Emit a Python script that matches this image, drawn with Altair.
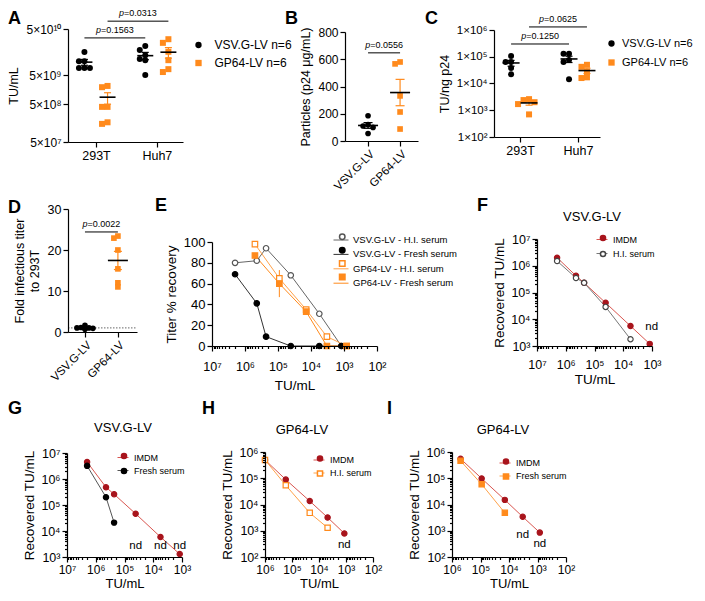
import altair as alt
import numpy as np
import pandas as pd

W, H = 689, 585
FONT = "Liberation Sans"
BLACK = "#000000"
ORANGE = "#FF8A1C"
ORANGE_LINE = "#FFA24A"
DKRED = "#A8141C"
RED_LINE = "#D95650"

SUPD = dict(zip("0123456789", "⁰¹²³⁴⁵⁶⁷⁸⁹"))


def sup(n):
    return "".join(SUPD[c] for c in str(n))


# ======================= values =======================
A_cells = ["293T", "Huh7"]
A_vsv_293T = [1.58e10, 1.0e10, 1.0e10, 7.1e9, 7.1e9, 7.1e9]
A_gp_293T = [2.1e9, 1.9e9, 4.2e8, 4.2e8, 1.65e8, 1.5e8]
A_vsv_Huh7 = [2.14e10, 1.74e10, 1.35e10, 1.12e10, 1.05e10, 5.0e9]
A_gp_Huh7 = [3.0e10, 2.5e10, 1.6e10, 1.05e10, 6.7e9, 5.8e9]
A_ticks = [5e7, 5e8, 5e9, 5e10]
A_p = ["=0.1563", "=0.0313"]
A_p_y = [3.2e10, 7.4e10]

B_groups = ["VSV.G-LV", "GP64-LV"]
B_vsv = [185, 120, 110, 100, 55]
B_gp = [580, 566, 331, 213, 88]
B_ticks = [0, 200, 400, 600, 800]
B_p = ["=0.0556"]
B_p_y = [647]

C_cells = ["293T", "Huh7"]
C_vsv_293T = [1.07e5, 6.3e4, 6.3e4, 3.8e4, 2.2e4]
C_gp_293T = [2.6e3, 2.4e3, 2.0e3, 1.7e3, 7.0e2]
C_vsv_Huh7 = [1.3e5, 1.3e5, 7.6e4, 6.3e4, 1.45e4]
C_gp_Huh7 = [5.0e4, 4.2e4, 2.7e4, 1.7e4, 1.6e4]
C_ticks = [1e2, 1e3, 1e4, 1e5, 1e6]
C_p = ["=0.1250", "=0.0625"]
C_p_y = [3.0e5, 1.3e6]

D_groups = ["VSV.G-LV", "GP64-LV"]
D_vsv = [0.7, 0.9, 1.0, 1.0, 1.1, 1.6]
D_gp = [23.4, 22.9, 20.0, 15.4, 12.0, 11.0]
D_ticks = [0, 10, 20, 30]
D_p = ["=0.0022"]
D_p_y = [24.4]

E_names = ["VSV.G-LV - H.I. serum", "VSV.G-LV - Fresh serum",
           "GP64-LV - H.I. serum", "GP64-LV - Fresh serum"]
VSV_titer = [2.0e6, 4.4e5, 2.3e5, 4.1e4, 5.6e3, 1.2e3]
GP_titer = [5.0e5, 9.1e4, 1.4e4, 3.3e3, 8.3e2]
E_vsv_hi = [80, 82, 94, 68, 31, 0]
E_vsv_fresh = [69, 41, 9, 0, 0, 0]
E_gp_hi = [98, 65, 35, 9, 0]
E_gp_fresh = [87, 60, 33, 0, 0]
E_gp_hi_err = [0, 3, 2, 0, 0]
E_gp_fresh_err = [0, 13, 2, 0, 0]
E_ticks = [0, 20, 40, 60, 80, 100]

F_names = ["IMDM", "H.I. serum"]
F_imdm = [2.0e6, 4.2e5, 2.3e5, 4.1e4, 5.6e3, 1.2e3]
F_hi = [1.5e6, 3.5e5, 2.3e5, 2.9e4, 1.8e3, None]
F_nd_x, F_nd_y = [1.2e3], [5.0e3]

G_names = ["IMDM", "Fresh serum"]
G_imdm = [4.5e6, 4.8e5, 2.6e5, 4.6e4, 5.9e3, 1.3e3]
G_fresh = [3.2e6, 2.0e5, 2.1e4, None, None, None]
G_nd_x, G_nd_y = [4.1e4, 5.6e3, 1.2e3], [2.6e3, 2.6e3, 2.6e3]

H_names = ["IMDM", "H.I. serum"]
H_titer = [1.0e6, 1.7e5, 2.2e4, 4.8e3, 1.15e3]
H_imdm = [5.0e5, 8.9e4, 1.35e4, 3.2e3, 7.9e2]
H_hi = [5.0e5, 5.4e4, 4.8e3, 1.3e3, None]
H_nd_x, H_nd_y = [1.15e3], [2.8e2]

I_names = ["IMDM", "Fresh serum"]
I_imdm = [5.5e5, 9.8e4, 1.5e4, 3.4e3, 8.5e2]
I_fresh = [4.6e5, 5.9e4, 4.8e3, None, None]
I_nd_x, I_nd_y = [3.3e3, 8.3e2], [6.6e2, 3.1e2]

# ======================= helpers =======================
AXB = dict(grid=False, domainColor=BLACK, tickColor=BLACK, labelColor=BLACK,
           titleColor=BLACK, domainWidth=1.2, tickWidth=1.2, labelFont=FONT,
           titleFont=FONT, titleFontWeight="normal", labelFlush=False,
           labelOverlap=False, zindex=2)


def expr_map(pairs):
    s = "''"
    for v, lab in reversed(pairs):
        s = f"datum.value == {float(v)!r} ? '{lab}' : {s}"
    return s


def axis(orient, pos, title, values, expr=None, fs=12, tfs=13, tick=5, tpad=4, **kw):
    off = -pos if orient == "left" else pos - H
    d = dict(AXB, orient=orient, offset=off, title=title, values=values,
             labelFontSize=fs, titleFontSize=tfs, tickSize=tick, titlePadding=tpad)
    if expr:
        d["labelExpr"] = expr
    d.update(kw)
    return alt.Axis(**d)


def log_axis(orient, pos, title, lo, hi, fs=12.5, tfs=13.5, minor=True, tpad=4, **kw):
    majors = [10 ** k for k in range(lo, hi + 1)]
    vals = list(majors)
    if minor:
        vals += [m * 10 ** k for k in range(lo, hi) for m in range(2, 10)]
    vals.sort()
    ex = expr_map([(10 ** k, "10" + sup(k)) for k in range(lo, hi + 1)])
    tick = 5
    if minor:
        tick = {"condition": {"test": "indexof(%s, datum.value) >= 0" % str(majors),
                              "value": 5}, "value": 2.5}
    return axis(orient, pos, title, vals, ex, fs, tfs, tick, tpad, **kw)


def swarm(vals, ypix, step, ppu):
    ys = [float(ypix(v)) for v in vals]
    order = sorted(range(len(vals)), key=lambda i: ys[i])
    placed, offs = [], [0.0] * len(vals)
    for i in order:
        xo = 0.0
        for k in [0, -1, 1, -2, 2, -3, 3, -4, 4]:
            xo = k * step
            if all((xo - px) ** 2 + (ys[i] - py) ** 2 >= (0.9 * step) ** 2 for px, py in placed):
                break
        placed.append((xo, ys[i]))
        offs[i] = xo / ppu
    return offs


def dot_df(series, ypix, step, ppu):
    rows = []
    for grp, xc, vals in series:
        for v, o in zip(vals, swarm(vals, ypix, step, ppu)):
            rows.append({"grp": grp, "xc": xc, "xj": xc + o, "v": v})
    return pd.DataFrame(rows)


def dot_layers(df, xs, ys, xax, yax, dom, cols, shapes, legend, size, mean_w, cap_w):
    base = alt.Chart(df)
    X = lambda f: alt.X(f, scale=xs, axis=None)
    Y = lambda f: alt.Y(f, scale=ys, axis=None)
    cs = alt.Scale(domain=dom, range=cols)
    pts = base.mark_point(filled=True, size=size, opacity=1, strokeWidth=0).encode(
        x=alt.X("xj:Q", scale=xs, axis=xax),
        y=alt.Y("v:Q", scale=ys, axis=yax),
        color=alt.Color("grp:N", scale=cs, legend=legend),
        shape=alt.Shape("grp:N", scale=alt.Scale(domain=dom, range=shapes), legend=legend),
    )
    agg = base.transform_aggregate(
        m="mean(v)", se="stderr(v)", groupby=["grp", "xc"]
    ).transform_calculate(
        lo="datum.m - datum.se", hi="datum.m + datum.se",
        ml=f"datum.xc - {mean_w}", mr=f"datum.xc + {mean_w}",
        cl=f"datum.xc - {cap_w}", cr=f"datum.xc + {cap_w}",
    )
    ec = alt.Color("grp:N", scale=cs, legend=None)
    vbar = agg.mark_rule(strokeWidth=1.2).encode(x=X("xc:Q"), y=Y("lo:Q"), y2="hi:Q", color=ec)
    c1 = agg.mark_rule(strokeWidth=1.2).encode(x=X("cl:Q"), x2="cr:Q", y=Y("lo:Q"), color=ec)
    c2 = agg.mark_rule(strokeWidth=1.2).encode(x=X("cl:Q"), x2="cr:Q", y=Y("hi:Q"), color=ec)
    mean = agg.mark_rule(strokeWidth=1.6, color=BLACK).encode(x=X("ml:Q"), x2="mr:Q", y=Y("m:Q"))
    return [vbar, c1, c2, pts, mean]


def bracket_layers(x1, x2, yv, labs, xs, ys, fs=9):
    bdf = pd.DataFrame({"x1": x1, "x2": x2, "y": yv, "lab": labs})
    base = alt.Chart(bdf).transform_calculate(xm="(datum.x1 + datum.x2) / 2")
    X = lambda f: alt.X(f, scale=xs, axis=None)
    Y = lambda f: alt.Y(f, scale=ys, axis=None)
    wp = 0.556 * fs
    wr = sum({"=": 0.584, ".": 0.278}.get(c, 0.556) for c in labs[0]) * fs
    half = (wp + wr) / 2
    rule = base.mark_rule(strokeWidth=1, color=BLACK).encode(x=X("x1:Q"), x2="x2:Q", y=Y("y:Q"))
    tp = base.mark_text(text="p", fontStyle="italic", font=FONT, fontSize=fs, align="left",
                        baseline="bottom", dx=-half, dy=-3, color=BLACK).encode(x=X("xm:Q"), y=Y("y:Q"))
    tr = base.mark_text(font=FONT, fontSize=fs, align="left", baseline="bottom",
                        dx=-half + wp, dy=-3, color=BLACK).encode(x=X("xm:Q"), y=Y("y:Q"), text="lab:N")
    return [rule, tp, tr]


def legend(x, y, fs, size, rowpad, lab_off=4, show=True, stype=None,
           expr="substring(datum.label, 2)", sw=None):
    d = dict(orient="none", legendX=x, legendY=y, title=None, labelFontSize=fs,
             labelFont=FONT, labelColor=BLACK, symbolSize=size, rowPadding=rowpad,
             padding=0, labelOffset=lab_off, labelExpr=expr if show else "' '",
             symbolOpacity=1)
    if stype:
        d["symbolType"] = stype
    if sw is not None:
        d["symbolStrokeWidth"] = sw
    return alt.Legend(**d)


def curve_layers(tag, names, xlists, ylists, xs, ys, xax, yax, line_cols, fills, strokes,
                 shapes, leg_line, leg_pt, psize, extra=None):
    rows = []
    for n, xv, yv in zip(names, xlists, ylists):
        for x, y in zip(xv, yv):
            if y is None:
                continue
            rows.append({"s": f"{tag}|{n}", "sp": f"{tag}#{n}", "x": x, "y": y})
    df = pd.DataFrame(rows)
    ldom = [f"{tag}|{n}" for n in names]
    pdom = [f"{tag}#{n}" for n in names]
    lines = alt.Chart(df).mark_line(strokeWidth=1).encode(
        x=alt.X("x:Q", scale=xs, axis=xax),
        y=alt.Y("y:Q", scale=ys, axis=yax),
        color=alt.Color("s:N", scale=alt.Scale(domain=ldom, range=line_cols), legend=leg_line),
    )
    pts = alt.Chart(df).mark_point(size=psize, opacity=1, strokeWidth=1.2).encode(
        x=alt.X("x:Q", scale=xs, axis=None),
        y=alt.Y("y:Q", scale=ys, axis=None),
        fill=alt.Fill("sp:N", scale=alt.Scale(domain=pdom, range=fills), legend=leg_pt),
        stroke=alt.Stroke("sp:N", scale=alt.Scale(domain=pdom, range=strokes), legend=leg_pt),
        shape=alt.Shape("sp:N", scale=alt.Scale(domain=pdom, range=shapes), legend=leg_pt),
    )
    out = [lines]
    if extra is not None:
        out.append(extra)
    out.append(pts)
    return out


def nd_layer(xv, yv, xs, ys, dx=0):
    return alt.Chart(pd.DataFrame({"x": xv, "y": yv})).mark_text(
        text="nd", font=FONT, fontSize=11.5, color=BLACK, dx=dx
    ).encode(x=alt.X("x:Q", scale=xs, axis=None), y=alt.Y("y:Q", scale=ys, axis=None))


def label(s, x, y, fs, bold=False, align="left"):
    return alt.Chart(pd.DataFrame({"t": [s]})).mark_text(
        font=FONT, fontSize=fs, fontWeight="bold" if bold else "normal", align=align,
        baseline="middle", color=BLACK
    ).encode(x=alt.value(x), y=alt.value(y), text="t:N")


DOT_COLS = [BLACK, ORANGE]
DOT_SHAPES = ["circle", "square"]
layers = []

# ======================= panel A =======================
A_rng = [134, 96, 67, 21]
A_xs = alt.Scale(domain=[0.54, 2.43], range=[60, 175], nice=False, zero=False)
A_ys = alt.Scale(type="log", domain=A_ticks, range=A_rng, nice=False)
A_ypix = lambda v: np.interp(np.log10(v), np.log10(A_ticks), A_rng)
A_ppu = 115 / (2.43 - 0.54)
A_dom = ["A|VSV.G-LV", "A|GP64-LV"]
A_df = dot_df([(A_dom[0], 1 - 0.19, A_vsv_293T), (A_dom[1], 1 + 0.19, A_gp_293T),
               (A_dom[0], 2 - 0.19, A_vsv_Huh7), (A_dom[1], 2 + 0.19, A_gp_Huh7)],
              A_ypix, 5.5, A_ppu)
A_yax = axis("left", 60, "TU/mL", A_ticks,
             expr_map([(v, "5×10" + sup(int(round(np.log10(v / 5))))) for v in A_ticks]),
             fs=12, tfs=12.5, tpad=5)
A_xax = axis("bottom", 134, None, [1, 2], expr_map([(1, A_cells[0]), (2, A_cells[1])]), fs=12.5)
A_leg = legend(184.5, 31, 12, 40, 6, lab_off=10, expr="substring(datum.label, 2) + ' n=6'", sw=0)
layers += dot_layers(A_df, A_xs, A_ys, A_xax, A_yax, A_dom, DOT_COLS, DOT_SHAPES, A_leg, 36,
                     8 / A_ppu, 3.5 / A_ppu)
layers += bracket_layers([0.81, 1.19], [1.81, 2.19], A_p_y, A_p, A_xs, A_ys)

# ======================= panel B =======================
B_xs = alt.Scale(domain=[0.28, 2.56], range=[337, 410], nice=False, zero=False)
B_ys = alt.Scale(domain=[0, 800], range=[133, 24], nice=False, zero=False)
B_ypix = lambda v: 133 + (24 - 133) * v / 800
B_ppu = 73 / (2.56 - 0.28)
B_dom = ["B|VSV.G-LV", "B|GP64-LV"]
B_df = dot_df([(B_dom[0], 1, B_vsv), (B_dom[1], 2, B_gp)], B_ypix, 5.0, B_ppu)
B_yax = axis("left", 337, "Particles (p24 μg/mL)", B_ticks, fs=12, tfs=12.5, tpad=5)
B_xax = axis("bottom", 133, None, [1, 2], expr_map([(1, B_groups[0]), (2, B_groups[1])]),
             fs=11.5, labelAngle=315)
layers += dot_layers(B_df, B_xs, B_ys, B_xax, B_yax, B_dom, DOT_COLS, DOT_SHAPES, None, 32,
                     10 / B_ppu, 4.5 / B_ppu)
layers += bracket_layers([1], [2], B_p_y, B_p, B_xs, B_ys)

# ======================= panel C =======================
C_xs = alt.Scale(domain=[0.55, 2.38], range=[486, 592], nice=False, zero=False)
C_ys = alt.Scale(type="log", domain=[1e2, 1e6], range=[129, 22], nice=False)
C_ypix = lambda v: 129 + (22 - 129) * (np.log10(v) - 2) / 4
C_ppu = 106 / (2.38 - 0.55)
C_dom = ["C|VSV.G-LV", "C|GP64-LV"]
C_df = dot_df([(C_dom[0], 1 - 0.155, C_vsv_293T), (C_dom[1], 1 + 0.155, C_gp_293T),
               (C_dom[0], 2 - 0.155, C_vsv_Huh7), (C_dom[1], 2 + 0.155, C_gp_Huh7)],
              C_ypix, 5.5, C_ppu)
C_yax = axis("left", 486, "TU/ng p24", C_ticks,
             expr_map([(v, "1×10" + sup(int(round(np.log10(v))))) for v in C_ticks]),
             fs=11.5, tfs=12.5, tpad=5)
C_xax = axis("bottom", 129, None, [1, 2], expr_map([(1, C_cells[0]), (2, C_cells[1])]), fs=12.5)
C_leg = legend(598, 30, 11, 40, 7, lab_off=5, expr="substring(datum.label, 2) + ' n=6'", sw=0)
layers += dot_layers(C_df, C_xs, C_ys, C_xax, C_yax, C_dom, DOT_COLS, DOT_SHAPES, C_leg, 36,
                     8.5 / C_ppu, 3.5 / C_ppu)
layers += bracket_layers([0.845, 1.155], [1.845, 2.155], C_p_y, C_p, C_xs, C_ys)

# ======================= panel D =======================
D_xs = alt.Scale(domain=[0.485, 2.58], range=[60, 129], nice=False, zero=False)
D_ys = alt.Scale(domain=[0, 30], range=[324, 201], nice=False, zero=False)
D_ypix = lambda v: 324 + (201 - 324) * v / 30
D_ppu = 69 / (2.58 - 0.485)
D_dom = ["D|VSV.G-LV", "D|GP64-LV"]
D_df = dot_df([(D_dom[0], 1, D_vsv), (D_dom[1], 2, D_gp)], D_ypix, 4.0, D_ppu)
D_yax = axis("left", 60, ["Fold infectious titer", "to 293T"], D_ticks, fs=12.5, tfs=12.5, tpad=6)
D_xax = axis("bottom", 324, None, [1, 2], expr_map([(1, D_groups[0]), (2, D_groups[1])]),
             fs=11.5, labelAngle=315)
layers.append(alt.Chart(pd.DataFrame({"x1": [0.485], "x2": [2.58], "y": [1]})).mark_rule(
    strokeDash=[1.5, 1.5], strokeWidth=1, color="#666666"
).encode(x=alt.X("x1:Q", scale=D_xs, axis=None), x2="x2:Q", y=alt.Y("y:Q", scale=D_ys, axis=None)))
layers += dot_layers(D_df, D_xs, D_ys, D_xax, D_yax, D_dom, DOT_COLS, DOT_SHAPES, None, 32,
                     10 / D_ppu, 4 / D_ppu)
layers += bracket_layers([1], [2], D_p_y, D_p, D_xs, D_ys)

# ======================= panel E =======================
E_xs = alt.Scale(type="log", domain=[1e2, 1e7], range=[369, 204], nice=False)
E_ys = alt.Scale(domain=[0, 100], range=[338, 234], nice=False, zero=False)
E_yax = axis("left", 204, "Titer % recovery", E_ticks, fs=13, tfs=13.5, tpad=5)
E_xax = log_axis("bottom", 338, "TU/mL", 2, 7, fs=12.5, tfs=13.5, tpad=6, labelPadding=9)
E_err = pd.DataFrame({
    "s": ["E|" + E_names[2]] * 5 + ["E|" + E_names[3]] * 5,
    "x": GP_titer + GP_titer,
    "lo": [a - b for a, b in zip(E_gp_hi, E_gp_hi_err)] + [a - b for a, b in zip(E_gp_fresh, E_gp_fresh_err)],
    "hi": [a + b for a, b in zip(E_gp_hi, E_gp_hi_err)] + [a + b for a, b in zip(E_gp_fresh, E_gp_fresh_err)],
})
E_err = E_err[E_err["hi"] > E_err["lo"]]
E_line_cols = ["#666666", "#333333", ORANGE_LINE, ORANGE]
E_errl = alt.Chart(E_err).mark_rule(strokeWidth=1).encode(
    x=alt.X("x:Q", scale=E_xs, axis=None),
    y=alt.Y("lo:Q", scale=E_ys, axis=None), y2="hi:Q",
    color=alt.Color("s:N", scale=alt.Scale(domain=["E|" + n for n in E_names], range=E_line_cols),
                    legend=None),
)
layers += curve_layers(
    "E", E_names, [VSV_titer, VSV_titer, GP_titer, GP_titer],
    [E_vsv_hi, E_vsv_fresh, E_gp_hi, E_gp_fresh], E_xs, E_ys, E_xax, E_yax,
    E_line_cols, ["white", BLACK, "white", ORANGE], ["#555555", BLACK, ORANGE, ORANGE],
    ["circle", "circle", "square", "square"],
    legend(325, 224, 9.5, 225, 1.4, lab_off=4, stype="stroke", sw=1),
    legend(329.5, 224, 9.5, 30, 1.4, show=False), 30, extra=E_errl)

# ======================= panel F =======================
F_xs = alt.Scale(type="log", domain=[1e3, 1e7], range=[644, 529], nice=False)
F_ys = alt.Scale(type="log", domain=[1e3, 1e7], range=[338, 231], nice=False)
layers += curve_layers(
    "F", F_names, [VSV_titer, VSV_titer], [F_imdm, F_hi], F_xs, F_ys,
    log_axis("bottom", 338, "TU/mL", 3, 7, tpad=2, labelPadding=7),
    log_axis("left", 529, "Recovered TU/mL", 3, 7, tpad=4),
    [RED_LINE, "#777777"], [DKRED, "white"], [DKRED, "#444444"], ["circle", "circle"],
    legend(588, 225.5, 9, 121, 3, lab_off=5, stype="stroke", sw=1),
    legend(590.5, 225.5, 9, 26, 3, show=False), 28)
layers.append(nd_layer(F_nd_x, F_nd_y, F_xs, F_ys, dx=2))

# ======================= panel G =======================
G_xs = alt.Scale(type="log", domain=[1e3, 1e7], range=[174, 59], nice=False)
G_ys = alt.Scale(type="log", domain=[1e3, 1e7], range=[549, 445], nice=False)
layers += curve_layers(
    "G", G_names, [VSV_titer, VSV_titer], [G_imdm, G_fresh], G_xs, G_ys,
    log_axis("bottom", 549, "TU/mL", 3, 7, fs=12, tfs=13, tpad=2),
    log_axis("left", 59, "Recovered TU/mL", 3, 7, tpad=4),
    [RED_LINE, "#555555"], [DKRED, BLACK], [DKRED, BLACK], ["circle", "circle"],
    legend(109, 443.5, 9, 121, 2, lab_off=5, stype="stroke", sw=1),
    legend(111.5, 443.5, 9, 26, 2, show=False), 28)
layers.append(nd_layer(G_nd_x, G_nd_y, G_xs, G_ys))

# ======================= panel H =======================
H_xs = alt.Scale(type="log", domain=[1e2, 1e6], range=[365, 257], nice=False)
H_ys = alt.Scale(type="log", domain=[1e2, 1e6], range=[549, 444], nice=False)
layers += curve_layers(
    "H", H_names, [H_titer, H_titer], [H_imdm, H_hi], H_xs, H_ys,
    log_axis("bottom", 549, "TU/mL", 2, 6, fs=12, tfs=13, tpad=2),
    log_axis("left", 257, "Recovered TU/mL", 2, 6, tpad=4),
    [RED_LINE, ORANGE_LINE], [DKRED, "white"], [DKRED, ORANGE], ["circle", "square"],
    legend(305, 446, 9, 121, 2, lab_off=5, stype="stroke", sw=1),
    legend(307.5, 446, 9, 26, 2, show=False), 28)
layers.append(nd_layer(H_nd_x, H_nd_y, H_xs, H_ys))

# ======================= panel I =======================
I_xs = alt.Scale(type="log", domain=[1e2, 1e6], range=[558, 444], nice=False)
I_ys = alt.Scale(type="log", domain=[1e2, 1e6], range=[549, 444], nice=False)
layers += curve_layers(
    "I", I_names, [GP_titer, GP_titer], [I_imdm, I_fresh], I_xs, I_ys,
    log_axis("bottom", 549, "TU/mL", 2, 6, fs=12, tfs=13, tpad=2),
    log_axis("left", 444, "Recovered TU/mL", 2, 6, tpad=4),
    [RED_LINE, ORANGE_LINE], [DKRED, ORANGE], [DKRED, ORANGE], ["circle", "square"],
    legend(491, 449, 9, 121, 2, lab_off=5, stype="stroke", sw=1),
    legend(493.5, 449, 9, 26, 2, show=False), 28)
layers.append(nd_layer(I_nd_x, I_nd_y, I_xs, I_ys))

# ======================= letters and titles =======================
layers += [
    label("A", 0, 10.5, 18, True), label("B", 277, 10.5, 18, True), label("C", 417, 10.5, 18, True),
    label("D", 0, 200, 18, True), label("E", 147, 198, 18, True), label("F", 469, 198, 18, True),
    label("G", 0, 401, 18, True), label("H", 194, 401, 18, True), label("I", 379, 401, 18, True),
    label("VSV.G-LV", 584, 209, 13, align="center"),
    label("VSV.G-LV", 115, 420, 13, align="center"),
    label("GP64-LV", 294, 422, 13, align="center"),
    label("GP64-LV", 495, 422, 13, align="center"),
]

chart = alt.layer(*layers).resolve_scale(
    x="independent", y="independent", color="independent", shape="independent",
    fill="independent", stroke="independent"
).properties(
    width=W, height=H, padding=0, background="white",
    autosize=alt.AutoSizeParams(type="none")
).configure_view(stroke=None)

chart.save("out.html", embed_options={"renderer": "svg", "actions": False})
